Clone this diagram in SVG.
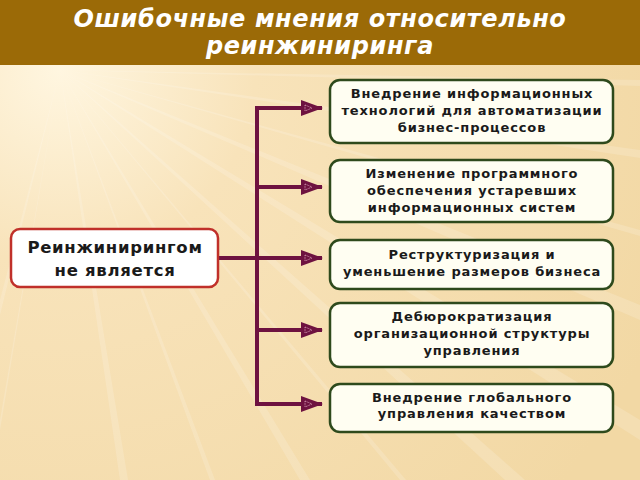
<svg xmlns="http://www.w3.org/2000/svg" width="640" height="480" viewBox="0 0 640 480">
<defs>
<radialGradient id="bg" cx="60" cy="70" r="650" gradientUnits="userSpaceOnUse">
<stop offset="0" stop-color="#FFF6E0"/>
<stop offset="0.3" stop-color="#F8E3BA"/>
<stop offset="1" stop-color="#F2D8A4"/>
</radialGradient>
<marker id="arr" viewBox="0 0 22 16" refX="21" refY="8" markerWidth="22" markerHeight="16" markerUnits="userSpaceOnUse" orient="auto">
<path d="M0,0 L22,8 L0,16 Z" fill="#6E1240"/>
<path d="M4,5 L11,8 L4,11 Z" fill="none" stroke="#D9A0B8" stroke-width="0.8" stroke-dasharray="1.5,1"/>
</marker>
<style>
.title{font-family:"DejaVu Sans",Verdana,sans-serif;font-weight:bold;font-style:italic;font-size:24px;fill:#FFFFFF;text-anchor:middle;letter-spacing:0.6px}
.lbox{fill:#FFFFFF;stroke:#C0302A;stroke-width:2.5}
.ltxt{font-family:"DejaVu Sans",Verdana,sans-serif;font-weight:bold;font-size:16.5px;fill:#1A1A1A;text-anchor:middle;letter-spacing:0.7px}
.rbox{fill:#FFFEF2;stroke:#2E4A1C;stroke-width:2.5}
.rtxt{font-family:"DejaVu Sans",Verdana,sans-serif;font-weight:bold;font-size:13px;fill:#1A1A1A;text-anchor:middle;letter-spacing:0.85px}
.con{fill:none;stroke:#6E1240;stroke-width:4}
.ray{fill:#FFFFFF;opacity:0.16}
</style>
</defs>
<rect x="0" y="0" width="640" height="480" fill="url(#bg)"/>
<g id="rays">
<polygon class="ray" points="60,70 640,305 640,320"/>
<polygon class="ray" points="60,70 640,150 640,158"/>
<polygon class="ray" points="60,70 505,480 525,480"/>
<polygon class="ray" points="60,70 300,480 310,480"/>
<polygon class="ray" points="60,70 120,480 128,480"/>
<polygon class="ray" points="60,70 640,420 640,440"/>
<polygon class="ray" points="60,70 640,80 640,86"/>
<polygon class="ray" points="60,70 0,300 0,315"/>
<polygon class="ray" points="60,70 400,480 406,480"/>
<polygon class="ray" points="60,70 640,230 640,236"/>
<polygon class="ray" points="60,70 210,480 215,480"/>
<polygon class="ray" points="60,70 0,420 0,430"/>
</g>
<rect x="0" y="0" width="640" height="65" fill="#9B6A07"/>
<text class="title" x="320" y="27">Ошибочные мнения относительно</text>
<text class="title" x="320" y="54">реинжиниринга</text>
<g id="connectors">
<path class="con" d="M218,258 H257"/>
<path class="con" d="M257,106 V404"/>
<path class="con" d="M257,108 H322" marker-end="url(#arr)"/>
<path class="con" d="M257,187 H322" marker-end="url(#arr)"/>
<path class="con" d="M257,258 H322" marker-end="url(#arr)"/>
<path class="con" d="M257,330 H322" marker-end="url(#arr)"/>
<path class="con" d="M255,404 H322" marker-end="url(#arr)"/>
</g>
<g id="left">
<rect class="lbox" x="11" y="229" width="207" height="58" rx="9"/>
<text class="ltxt" x="115" y="253">Реинжинирингом</text>
<text class="ltxt" x="115" y="276">не является</text>
</g>
<g id="n1">
<rect class="rbox" x="330" y="80" width="283" height="63" rx="10"/>
<text class="rtxt" x="472" y="98">Внедрение информационных</text>
<text class="rtxt" x="472" y="115">технологий для автоматизации</text>
<text class="rtxt" x="472" y="132">бизнес-процессов</text>
</g>
<g id="n2">
<rect class="rbox" x="330" y="160" width="283" height="62" rx="10"/>
<text class="rtxt" x="472" y="178">Изменение программного</text>
<text class="rtxt" x="472" y="195">обеспечения устаревших</text>
<text class="rtxt" x="472" y="212">информационных систем</text>
</g>
<g id="n3">
<rect class="rbox" x="330" y="240" width="283" height="49" rx="10"/>
<text class="rtxt" x="472" y="259">Реструктуризация и</text>
<text class="rtxt" x="472" y="276">уменьшение размеров бизнеса</text>
</g>
<g id="n4">
<rect class="rbox" x="330" y="303" width="283" height="64" rx="10"/>
<text class="rtxt" x="472" y="321">Дебюрократизация</text>
<text class="rtxt" x="472" y="338">организационной структуры</text>
<text class="rtxt" x="472" y="355">управления</text>
</g>
<g id="n5">
<rect class="rbox" x="330" y="384" width="283" height="48" rx="10"/>
<text class="rtxt" x="472" y="402">Внедрение глобального</text>
<text class="rtxt" x="472" y="418">управления качеством</text>
</g>
</svg>
